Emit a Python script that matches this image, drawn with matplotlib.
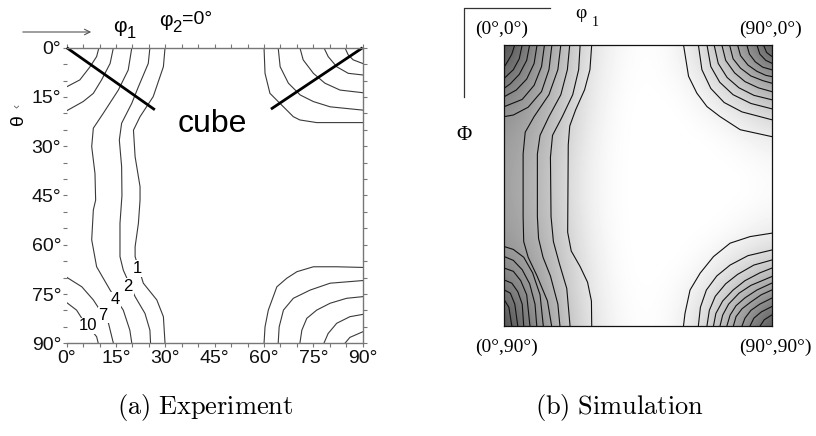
import matplotlib
matplotlib.use("Agg")
import matplotlib.pyplot as plt
import numpy as np

W, H = 816, 436
plt.rcParams['font.family'] = ['Liberation Sans', 'DejaVu Sans']
plt.rcParams['mathtext.fontset'] = 'cm'

# ======================= (a) EXPERIMENT: contour lines (phi1, theta) =======================

exp_levels = [10, 7, 4, 2, 1]

# left group, from the top edge / left edge down to the bottom edge
lvl10_top_phi = [9.8, 9.1, 7.1, 4.0, 0.0]
lvl10_top_theta = [0.0, 2.7, 5.8, 9.8, 11.9]
lvl10_bot_phi = [0.0, 3.0, 4.6, 9.1, 9.6]
lvl10_bot_theta = [77.6, 79.9, 82.4, 88.0, 90.0]
lvl7_top_phi = [14.2, 13.2, 10.6, 8.1, 5.0, 0.0]
lvl7_top_theta = [0.0, 4.8, 9.8, 13.9, 16.4, 19.2]
lvl7_bot_phi = [0.0, 4.6, 8.1, 12.7, 14.2]
lvl7_bot_theta = [69.9, 72.8, 76.8, 83.9, 90.0]
lvl4_phi = [19.8, 18.7, 15.7, 11.1, 8.1, 7.6, 8.6, 8.8, 8.1, 7.6, 9.1, 13.2, 17.2, 19.2, 19.8]
lvl4_theta = [0, 6.8, 12.9, 20, 24.5, 30.1, 38.3, 46.4, 49.4, 58.5, 66.7, 73.8, 79.9, 86, 90]
lvl2_phi = [25.3, 24.8, 21.8, 19.8, 16.7, 16.0, 16.7, 16.8, 16.2, 16.2, 17.2, 20.8, 23.8, 25.3, 25.5]
lvl2_theta = [0, 4.8, 11.9, 16.9, 23, 28.1, 36.2, 45, 53.5, 63.6, 67.7, 75.8, 80.9, 86, 90]
lvl1_phi = [29.9, 29.4, 26.3, 22.3, 20.3, 20.8, 22.3, 22.3, 21.8, 20.8, 20.8, 23.3, 27.4, 29.4, 29.9]
lvl1_theta = [0, 5.8, 14.9, 21, 25.1, 33.2, 42.3, 46.4, 53.5, 60.6, 63.6, 71.7, 76.8, 81.9, 90]

# right group, corner arcs (outer to inner)
exp_tr_phi = [[60, 60.3, 61.8, 65.9, 68.9, 70.9, 76, 90],
              [64.3, 64.9, 67.4, 71, 75, 80.1, 90],
              [70.9, 71.9, 75, 78.5, 83.1, 90],
              [78.2, 79.5, 82.1, 85.6, 90],
              [84.6, 85.6, 87.1, 90]]
exp_tr_theta = [[0, 7.8, 13.9, 18, 21, 22, 22.8, 22.8],
                [0, 5.8, 10.8, 14.4, 16.4, 18, 19],
                [0, 3.7, 7.8, 10.8, 12.9, 13.7],
                [0, 2.7, 5.8, 7.8, 8.3],
                [0, 2.2, 3.7, 4.8]]
exp_br_phi = [[60, 60.3, 61.3, 63.9, 66.9, 70, 75, 82.1, 90],
              [64.3, 64.6, 65.9, 68.9, 74, 80.1, 90],
              [70.9, 71.5, 73, 76, 80.1, 85.1, 90],
              [78.2, 79.5, 82.1, 86.1, 90],
              [84.6, 86.1, 90]]
exp_br_theta = [[90, 85, 79.9, 72.8, 70.2, 68.2, 66.7, 66.7, 66.9],
                [90, 85, 79.9, 76.3, 73.8, 71.7, 70.9],
                [90, 86, 82.4, 79.9, 77.8, 76.3, 75.8],
                [90, 87, 83.9, 81.9, 81.2],
                [90, 88.2, 86.5]]

exp_label_text = ['1', '2', '4', '7', '10']
exp_label_phi = [21.5, 18.7, 14.7, 11.1, 6.6]
exp_label_theta = [67.2, 72.8, 76.8, 81.4, 84.7]

# ======================= (b) SIMULATION: contour lines (phi1, Phi) =======================

sim_tl_phi = [[3.5, 2.5, 1, 0], [6, 5, 3, 0], [8.5, 7.5, 5, 2, 0],
              [11, 10, 7.5, 4, 0], [13.5, 12.5, 10, 6, 0], [16, 15, 12.5, 8, 3, 0]]
sim_tl_Phi = [[0, 3, 5.5, 7], [0, 4.5, 8, 10.7], [0, 5, 9.5, 12.5, 13.9],
              [0, 6, 11, 14.5, 16.6], [0, 7, 13, 17.5, 19.8], [0, 8, 15, 20, 22.5, 23]]
sim_bl_phi = [[0, 1.5, 2.5], [0, 2, 3.5, 4.5], [0, 2.5, 4.5, 6, 6.5],
              [0, 3, 5.5, 7.5, 8.6], [0, 3, 6, 8.5, 10.3, 10.9], [0, 3, 6.5, 9.5, 12, 13.1]]
sim_bl_Phi = [[81.7, 84, 90], [78.5, 79.5, 83, 90], [75.3, 76.3, 79, 83, 90],
              [71.5, 72.5, 75.5, 80, 90], [67.8, 69, 72, 76.5, 83, 90], [64.6, 65.5, 68, 73, 80, 90]]
sim_long_phi = [[19, 18, 15, 10, 7, 6.3, 6.3, 6.5, 8, 11, 14.5, 15.9],
                [22, 21.2, 19, 15, 12, 11.1, 11.1, 11.5, 13, 15.5, 18, 18.7],
                [25.5, 25, 23, 19.5, 16.2, 15.5, 15.7, 16.5, 18.5, 21, 22.1],
                [29.4, 28.8, 27, 24, 22, 21.5, 21.3, 22.5, 25.5, 28, 29.3, 29.4]]
sim_long_Phi = [[0, 8, 16, 23, 28, 35, 55, 63, 68, 74, 82, 90],
                [0, 8, 16, 23, 29, 35, 55, 62, 68, 74, 83, 90],
                [0, 8, 16, 23, 29, 36, 55, 63, 70, 78, 90],
                [0, 8, 14.4, 20.8, 26, 32, 60, 66, 71, 76, 82, 90]]
sim_tr_phi = [[60.3, 62.0, 64.8, 68.2, 72.6, 79.4, 90], [65.3, 66.5, 69.5, 74, 80, 90],
              [68.2, 69.5, 72.5, 77, 83, 90], [70.6, 72, 75, 79, 84, 90],
              [73.2, 74.5, 77.5, 81, 85.5, 90], [75.8, 77, 79.5, 83, 87, 90],
              [78.5, 79.5, 82, 85, 88, 90], [81.6, 82.5, 84.5, 87, 90],
              [85, 86, 88, 90], [87.2, 88.3, 90]]
sim_tr_Phi = [[0, 10.1, 15.5, 19.8, 23.0, 27.2, 29.4], [0, 8, 14, 18.5, 21.5, 24],
              [0, 7, 12, 16, 18.8, 20.5], [0, 6, 10.5, 13.8, 16.2, 17.6],
              [0, 5, 9, 11.8, 13.8, 15], [0, 4.5, 7.5, 10, 11.5, 12.3],
              [0, 3.5, 6.5, 8.5, 9.8, 10.2], [0, 3, 5.5, 7.2, 8],
              [0, 3, 5, 5.9], [0, 2.5, 3.7]]
sim_br_phi = [[60.3, 60.8, 62.5, 65.9, 70.4, 76, 82.7, 90], [65.3, 66, 68, 71.5, 76, 82, 90],
              [68.2, 69, 71, 74.5, 78.5, 84, 90], [70.4, 71.2, 73.5, 77, 81, 86, 90],
              [72.6, 73.5, 75.5, 79, 83, 90], [74.9, 76, 78, 81, 85, 90],
              [77.1, 78, 80, 83, 86.5, 90], [80, 81, 83, 86, 90],
              [82.7, 84, 86.5, 90], [86.1, 87.5, 90]]
sim_br_Phi = [[90, 86, 78.5, 73.1, 67.8, 63.5, 61.4, 60.3], [90, 84, 78.5, 74, 70.5, 67.5, 65.7],
              [90, 85, 80.5, 76.5, 73.5, 70.5, 68.9], [90, 86, 82, 78.5, 75.5, 73, 71.5],
              [90, 86.5, 83, 79.5, 77, 74.2], [90, 86.5, 83.5, 81, 78.5, 76.3],
              [90, 87, 84.5, 82.3, 80, 78.5], [90, 87.5, 85, 83, 81.1],
              [90, 87.5, 85.5, 83.8], [90, 88, 86.5]]

# gray level of the simulated ODF on a 10 deg grid (rows: Phi 0..90, cols: phi1 0..90)
sim_gray = np.array([
    [0.28, 0.52, 0.74, 0.90, 0.98, 1.00, 0.95, 0.80, 0.58, 0.30],
    [0.42, 0.60, 0.77, 0.92, 0.99, 1.00, 0.97, 0.88, 0.72, 0.55],
    [0.55, 0.64, 0.79, 0.93, 1.00, 1.00, 1.00, 0.95, 0.88, 0.80],
    [0.60, 0.68, 0.81, 0.95, 1.00, 1.00, 1.00, 1.00, 0.97, 0.93],
    [0.62, 0.70, 0.83, 0.96, 1.00, 1.00, 1.00, 1.00, 1.00, 0.98],
    [0.62, 0.70, 0.83, 0.96, 1.00, 1.00, 1.00, 1.00, 1.00, 0.98],
    [0.60, 0.68, 0.81, 0.95, 1.00, 1.00, 1.00, 1.00, 0.97, 0.93],
    [0.55, 0.64, 0.79, 0.93, 1.00, 1.00, 1.00, 0.95, 0.88, 0.80],
    [0.42, 0.60, 0.77, 0.92, 0.99, 1.00, 0.97, 0.88, 0.72, 0.55],
    [0.28, 0.52, 0.74, 0.90, 0.98, 1.00, 0.95, 0.80, 0.58, 0.30],
])

tick_deg = list(range(0, 91, 15))


def fx(x):
    return x / W


def fy(y):
    return 1 - y / H


fig = plt.figure(figsize=(W / 100, H / 100), dpi=100)
fig.patch.set_facecolor('white')

# ======================= PANEL (a) =======================
ax1 = fig.add_axes([fx(66.7), fy(343.3), 296 / W, 295.6 / H])
ax1.set_xlim(0, 90)
ax1.set_ylim(90, 0)
ax1.set_xticks(tick_deg)
ax1.set_yticks(tick_deg)
ax1.set_xticks(range(0, 91, 5), minor=True)
ax1.set_yticks(range(0, 91, 5), minor=True)
ax1.set_xticklabels([f'{t}°' for t in tick_deg], fontsize=14)
ax1.set_yticklabels([f'{t}°' for t in tick_deg], fontsize=14)
ax1.tick_params(which='both', direction='out', length=3, width=0.8, color='#777777',
                top=True, right=True, labelcolor='#111111')
ax1.tick_params(axis='x', pad=2)
ax1.tick_params(axis='y', pad=1)
ax1.spines['left'].set_visible(False)
for s in ['top', 'right', 'bottom']:
    ax1.spines[s].set_color('#777777')
    ax1.spines[s].set_linewidth(1.0)

line_kw = dict(color='#3a3a3a', lw=0.8)
for px, py in [(lvl10_top_phi, lvl10_top_theta), (lvl10_bot_phi, lvl10_bot_theta),
               (lvl7_top_phi, lvl7_top_theta), (lvl7_bot_phi, lvl7_bot_theta),
               (lvl4_phi, lvl4_theta), (lvl2_phi, lvl2_theta), (lvl1_phi, lvl1_theta)]:
    ax1.plot(px, py, **line_kw)
for px, py in zip(exp_tr_phi + exp_br_phi, exp_tr_theta + exp_br_theta):
    ax1.plot(px, py, **line_kw)
for t, px, py in zip(exp_label_text, exp_label_phi, exp_label_theta):
    ax1.text(px, py, t, fontsize=12, ha='center', va='center',
             bbox=dict(fc='white', ec='none', pad=0.6))

# "cube" pointers
ax1.plot([0, 26.8], [0, 18.9], color='black', lw=2, clip_on=False, solid_capstyle='butt')
ax1.plot([90, 62.1], [0, 18.7], color='black', lw=2, clip_on=False, solid_capstyle='butt')
fig.text(fx(212), fy(124), 'cube', fontsize=23, ha='center', va='center')

# header arrow and angle labels
fig.add_artist(matplotlib.patches.FancyArrowPatch(
    (fx(20), fy(32)), (fx(94), fy(32)), transform=fig.transFigure,
    arrowstyle='->', mutation_scale=10, color='#555555', lw=0.8))
fig.text(fx(120), fy(27), 'φ', fontsize=15, ha='center', va='center')
fig.text(fx(131), fy(34), '1', fontsize=12, ha='center', va='center')
fig.text(fx(166), fy(20), 'φ', fontsize=15, ha='center', va='center')
fig.text(fx(177), fy(27), '2', fontsize=12, ha='center', va='center')
fig.text(fx(182), fy(20), '=0°', fontsize=14, ha='left', va='center')
fig.text(fx(18), fy(120), 'θ', fontsize=14, rotation=90, ha='center', va='center')
fig.text(fx(18), fy(106), '‹', fontsize=9, rotation=90, ha='center', va='center', color='#666666')

# ======================= PANEL (b) =======================
ax2 = fig.add_axes([fx(504.4), fy(326), 267.3 / W, 281.3 / H])
ax2.imshow(sim_gray, cmap='gray', vmin=0, vmax=1, extent=[-5, 95, 95, -5],
           interpolation='bicubic', aspect='auto')
ax2.set_xlim(0, 90)
ax2.set_ylim(90, 0)
ax2.set_xticks([])
ax2.set_yticks([])
for s in ax2.spines.values():
    s.set_color('#111111')
    s.set_linewidth(0.9)

sim_kw = dict(color='#111111', lw=0.8)
for px, py in zip(sim_tl_phi + sim_bl_phi + sim_long_phi + sim_tr_phi + sim_br_phi,
                  sim_tl_Phi + sim_bl_Phi + sim_long_Phi + sim_tr_Phi + sim_br_Phi):
    ax2.plot(px, py, **sim_kw)

serif = ['Liberation Serif', 'DejaVu Serif']
fig.text(fx(502), fy(29), '(0°,0°)', family=serif, fontsize=14, ha='center', va='center')
fig.text(fx(771), fy(29), '(90°,0°)', family=serif, fontsize=14, ha='center', va='center')
fig.text(fx(506), fy(347), '(0°,90°)', family=serif, fontsize=14, ha='center', va='center')
fig.text(fx(775), fy(347), '(90°,90°)', family=serif, fontsize=14, ha='center', va='center')
fig.text(fx(464), fy(135), 'Φ', family=serif, fontsize=15, ha='center', va='center')
fig.text(fx(581), fy(14), 'φ', family=serif, fontsize=14, ha='center', va='center')
fig.text(fx(595), fy(22), '1', family=serif, fontsize=10, ha='center', va='center')
fig.add_artist(matplotlib.lines.Line2D([fx(464.3), fx(464.3), fx(550)],
                                       [fy(96.7), fy(8.3), fy(8.3)],
                                       transform=fig.transFigure, color='#333333', lw=0.9))

# ======================= CAPTIONS =======================
fig.text(fx(205), fy(407), r'$\mathrm{(a)\ Experiment}$', fontsize=19, ha='center', va='center')
fig.text(fx(619), fy(407), r'$\mathrm{(b)\ Simulation}$', fontsize=19, ha='center', va='center')

fig.savefig('out.png', dpi=100, facecolor='white')
